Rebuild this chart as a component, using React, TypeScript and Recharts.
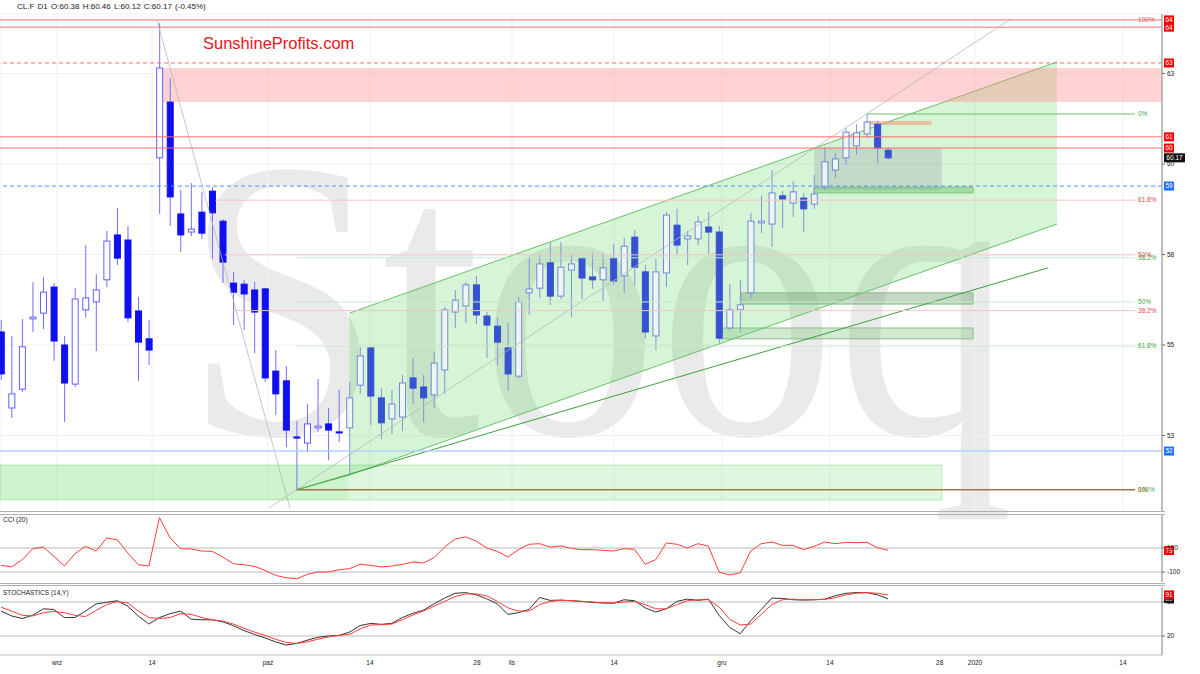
import React from 'react';
import {
  ComposedChart, Bar, Line, Area, XAxis, YAxis, CartesianGrid,
  ReferenceLine, ReferenceArea,
} from 'recharts';

// CL.F daily candles
const opens = [
  55.36, 53.26, 53.78, 55.72, 55.88, 56.60, 55.00, 53.92, 55.97, 56.19,
  56.80, 58.04, 57.90, 55.94, 55.17, 60.17, 61.71, 58.62, 58.12, 58.67,
  59.25, 58.42, 56.71, 56.68, 56.52, 56.55, 54.28, 54.01, 52.46, 52.29,
  52.71, 52.82, 52.60, 52.71, 53.89, 54.92, 53.54, 52.96, 53.01, 54.09,
  53.84, 53.62, 54.31, 55.91, 56.08, 56.66, 55.80, 55.52, 54.92, 54.14,
  56.44, 56.57, 57.27, 56.35, 57.07, 57.40, 56.88, 56.80, 57.40, 56.91,
  57.98, 57.02, 55.25, 56.99, 58.31, 57.93, 57.93, 58.26, 58.12, 55.47,
  55.97, 56.44, 58.37, 58.34, 59.12, 58.92, 59.06, 58.89, 59.36, 59.83,
  60.17, 60.50, 60.83, 61.10, 60.38,
];
const highs = [
  55.69, 55.25, 55.72, 56.74, 56.88, 56.71, 55.25, 56.57, 57.76, 56.96,
  58.15, 58.78, 58.29, 56.33, 55.69, 63.89, 62.38, 59.28, 59.47, 59.23,
  59.36, 58.48, 57.02, 56.80, 56.74, 56.57, 54.86, 54.42, 52.90, 53.37,
  54.06, 53.26, 53.76, 53.98, 54.94, 54.92, 53.81, 53.76, 54.17, 54.64,
  54.17, 54.81, 56.05, 56.52, 56.74, 56.91, 55.91, 55.75, 55.61, 56.33,
  57.43, 57.51, 57.84, 57.84, 57.49, 57.43, 57.54, 57.54, 57.79, 57.96,
  58.18, 57.21, 57.38, 58.67, 58.76, 58.15, 58.56, 58.67, 58.29, 56.68,
  56.80, 58.65, 59.12, 59.83, 59.25, 59.53, 59.20, 59.70, 60.47, 60.30,
  60.99, 61.10, 61.38, 61.19, 60.46,
];
const lows = [
  54.03, 52.98, 53.70, 55.36, 55.44, 54.56, 52.87, 53.84, 55.75, 54.83,
  56.60, 57.21, 55.64, 54.01, 54.45, 58.62, 58.29, 57.57, 58.01, 57.93,
  57.38, 56.71, 55.55, 55.41, 54.78, 53.98, 53.07, 52.18, 51.02, 52.04,
  52.60, 51.82, 52.32, 51.41, 53.65, 52.79, 52.40, 52.54, 52.62, 53.37,
  52.87, 53.26, 53.65, 55.47, 55.61, 55.58, 54.64, 54.45, 53.73, 54.09,
  55.83, 56.30, 56.10, 56.27, 55.77, 56.27, 56.55, 56.22, 56.66, 56.44,
  56.66, 55.19, 54.86, 56.60, 57.51, 57.21, 57.76, 57.51, 55.06, 55.41,
  55.36, 56.30, 58.09, 57.71, 58.23, 58.54, 58.12, 58.76, 59.28, 59.61,
  59.97, 60.25, 60.72, 60.03, 60.12,
];
const closes = [
  54.20, 53.65, 54.95, 55.77, 56.46, 55.11, 53.95, 56.27, 56.30, 56.52,
  57.87, 57.40, 55.75, 55.08, 54.86, 62.65, 59.09, 58.04, 58.20, 58.09,
  58.65, 57.29, 56.46, 56.41, 55.91, 54.09, 53.65, 52.65, 52.43, 52.82,
  52.76, 52.65, 52.57, 53.54, 54.70, 53.59, 52.85, 53.37, 53.95, 53.81,
  53.54, 54.50, 55.97, 56.24, 56.66, 55.83, 55.55, 55.08, 54.20, 56.19,
  56.55, 57.24, 56.35, 57.15, 57.24, 56.85, 56.80, 57.13, 56.77, 57.73,
  57.15, 55.36, 57.02, 58.59, 57.76, 58.01, 58.40, 58.12, 55.19, 55.97,
  56.11, 58.42, 58.42, 59.20, 59.03, 59.23, 58.76, 59.17, 60.06, 60.14,
  60.88, 60.86, 61.16, 60.44, 60.17,
];

const cci20 = [
  -44, -58, 3, 94, 108, 31, -50, 53, 114, 75,
  183, 169, 58, -39, -50, 353, 186, 94, 92, 75,
  72, 25, -31, -39, -53, -86, -128, -147, -156, -119,
  -100, -100, -81, -72, -36, -44, -58, -50, -36, -17,
  -25, 19, 108, 175, 192, 158, 100, 72, 25, 86,
  131, 136, 108, 117, 97, 86, 86, 81, 75, 94,
  89, -36, 3, 142, 131, 100, 136, 114, -100, -125,
  -106, 75, 136, 150, 122, 122, 86, 114, 150, 136,
  147, 144, 147, 103, 81,
];
const stochK = [
  64, 55.4, 50.9, 56.6, 68, 66.9, 52.6, 52.6, 64, 76.6,
  79.4, 82.3, 72.6, 55.4, 41.1, 52.6, 59.4, 64, 49.7, 48.6,
  48.6, 45.1, 38.3, 29.7, 22.9, 16.6, 9.7, 4, 6.9, 12.6,
  17.7, 20, 21.1, 26.9, 38.3, 42.3, 40.6, 42.3, 52.6, 60,
  65.7, 76.6, 86.9, 95.4, 96.6, 92.6, 85.7, 76.6, 58.3, 61.1,
  66.9, 88, 82.9, 83.4, 82.3, 81.1, 79.4, 78.3, 77.7, 84,
  82.3, 69.7, 62.3, 68, 81.1, 85.1, 82.9, 85.1, 56.6, 35.4,
  24, 46.9, 66.9, 86.9, 86.3, 84, 83.4, 84, 85.1, 90.9,
  95.4, 96.6, 96.6, 92.6, 85.7,
];
const stochD = [
  70.9, 64, 56.6, 55.4, 61.1, 63.4, 61.1, 56.6, 54.3, 65.1,
  75.4, 80.6, 78.3, 64, 52.6, 50.9, 52.6, 59.4, 58.3, 52.6,
  48.6, 46.3, 41.1, 33.7, 26.9, 21.1, 14.3, 8.6, 6.9, 9.7,
  14.3, 18.3, 21.1, 22.9, 32.6, 39.4, 40, 41.1, 48.6, 57.1,
  64, 72.6, 81.1, 89.7, 94.3, 94.3, 90.9, 81.1, 69.7, 64,
  64, 75.4, 81.1, 82.9, 82.3, 81.1, 80, 78.3, 78.3, 80,
  81.1, 75.4, 68, 68, 75.4, 82.3, 84, 84, 71.4, 49.7,
  39.4, 41.1, 58.3, 75.4, 84, 85.1, 84, 84, 84.6, 87.4,
  92.6, 95.4, 96.6, 95.4, 92.6,
];

// date axis (slot positions) and price ticks
const xTickPos = [5.3, 14.3, 25.28, 34.94, 45.07, 48.39, 58.05, 68.28, 78.5, 88.9, 92.24, 106.25];
const xTickLabels = ['wrz', '14', 'paź', '14', '28', 'lis', '14', 'gru', '14', '28', '2020', '14'];
const priceTicks = [52.5, 55, 57.5, 60, 62.5];

// rising channel: [lower, upper] at its two ends
const channel = [
  { i: 33, lo: 51.41, hi: 55.88 },
  { i: 100, lo: 58.34, hi: 62.82 },
];

const SLOTS = 110;
const X_DOMAIN: [number, number] = [-0.1, 109.95];
const FONT = '"Liberation Sans", Arial, sans-serif';

const rows = Array.from({ length: SLOTS }, (_, i) => {
  const ch = channel.find((c) => c.i === i);
  return {
    i,
    o: opens[i], h: highs[i], l: lows[i], c: closes[i],
    cci: cci20[i], k: stochK[i], d: stochD[i],
    ch: ch ? [ch.lo, ch.hi] : undefined,
  };
});

// candles inside the green channel look washed out in the original
function Candle(props: any) {
  const { x, y, width, height, payload } = props;
  if (!payload || payload.o == null) return null;
  const { o, h, l, c, i } = payload;
  const top = Math.min(y, y + height);
  const span = Math.abs(height);
  const k = h > l ? span / (h - l) : 0;
  const yOf = (v: number) => top + (h - v) * k;
  const up = c >= o;
  const bTop = yOf(Math.max(o, c));
  const bH = Math.max(1, yOf(Math.min(o, c)) - bTop);
  const cx = x + width / 2;
  const muted = i >= channel[0].i;
  const dn = muted ? '#3552d2' : '#0f0ff0';
  const upStroke = muted ? '#7288dc' : '#6060ff';
  const upFill = muted ? '#eef6f2' : '#ffffff';
  const wick = muted ? '#8294e0' : '#7070ff';
  return (
    <g>
      <line x1={cx} x2={cx} y1={top} y2={top + span} stroke={wick} strokeWidth={1} />
      <rect x={x + 0.5} y={bTop} width={width - 1} height={bH}
        fill={up ? upFill : dn} stroke={up ? upStroke : dn} strokeWidth={1} />
    </g>
  );
}

// small coloured value box on the right axis
const tag = (text: string, bg: string, w = 10) => (props: any) => {
  const vb = props.viewBox;
  if (!vb) return null;
  const x = vb.x + vb.width + 2;
  const y = vb.y;
  return (
    <g>
      <rect x={x} y={y - 4.5} width={w} height={9} fill={bg} />
      <text x={x + w / 2} y={y + 2.4} textAnchor="middle" fontSize={6.5} fill="#fff" fontFamily={FONT}>{text}</text>
    </g>
  );
};

const fibLbl = (value: string, fill: string) => ({ value, position: 'right' as const, fill, fontSize: 6.5, offset: 3, fontFamily: FONT });

const RED_FIB = '#f6c4c4';
const GREEN_FIB = '#cde8cd';

function MainPanel() {
  return (
    <ComposedChart width={1200} height={512} data={rows} margin={{ top: 14, right: 0, bottom: 0, left: 0 }}>
      <CartesianGrid stroke="#f1f1f1" strokeWidth={1} />
      <XAxis type="number" dataKey="i" domain={X_DOMAIN} ticks={xTickPos} allowDataOverflow hide />
      <YAxis orientation="right" width={38} domain={[50.387, 64.143]} ticks={priceTicks} allowDataOverflow
        tickFormatter={(v: number) => String(Math.round(v))}
        tick={{ fontSize: 6.5, fill: '#222', fontFamily: FONT }} tickSize={3}
        axisLine={{ stroke: '#aaa', strokeWidth: 1.5 }} tickLine={{ stroke: '#666' }} />

      <Bar dataKey={(d: any) => (d.o == null ? null : [d.l, d.h])} barSize={7} isAnimationActive={false}
        shape={(p: any) => <Candle {...p} />} />

      {/* support band at the bottom */}
      <ReferenceArea x1={-0.1} x2={89.1} y1={50.72} y2={51.685} fill="#5fd35f" fillOpacity={0.2} stroke="#9be09b" strokeOpacity={0.6} ifOverflow="hidden" />
      <ReferenceArea x1={-0.1} x2={32.9} y1={50.72} y2={51.685} fill="#5fd35f" fillOpacity={0.12} stroke="none" ifOverflow="hidden" />

      <Area type="linear" dataKey={(d: any) => d.ch} connectNulls isAnimationActive={false}
        stroke="#67c267" strokeWidth={1} fill="#45cf45" fillOpacity={0.22} dot={false} activeDot={false} />

      {/* resistance zone */}
      <ReferenceArea x1={14.7} x2={109.95} y1={61.71} y2={62.65} fill="#ff8c8c" fillOpacity={0.38} stroke="none" ifOverflow="hidden" />

      {/* consolidation boxes */}
      <ReferenceArea x1={77} x2={89.1} y1={59.28} y2={60.44} fill="#9aa6ad" fillOpacity={0.32} stroke="none" />
      <ReferenceArea x1={77} x2={92.05} y1={59.2} y2={59.36} fill="#5cb85c" fillOpacity={0.4} stroke="#7cc47c" />
      <ReferenceArea x1={70.1} x2={92.05} y1={56.13} y2={56.44} fill="#7fa97f" fillOpacity={0.45} stroke="#86c086" />
      <ReferenceArea x1={68} x2={92.05} y1={55.17} y2={55.47} fill="#7fbf7f" fillOpacity={0.35} stroke="#86c086" />
      <ReferenceArea x1={82.1} x2={88.1} y1={61.08} y2={61.19} fill="#f0966e" fillOpacity={0.55} stroke="none" />

      {/* trend lines */}
      <ReferenceLine segment={[{ x: 14.77, y: 63.98 }, { x: 27.36, y: 50.5 }]} stroke="#b8b8b8" strokeWidth={0.8} ifOverflow="visible" />
      <ReferenceLine segment={[{ x: 25.36, y: 50.5 }, { x: 95.59, y: 64.0 }]} stroke="#b8b8b8" strokeWidth={0.8} ifOverflow="visible" />
      <ReferenceLine segment={[{ x: 28, y: 51.0 }, { x: 99.15, y: 57.13 }]} stroke="#3f9f3f" strokeWidth={1} ifOverflow="visible" />
      <ReferenceLine segment={[{ x: 28, y: 51.0 }, { x: 33, y: 51.41 }]} stroke="#55b855" strokeWidth={1} ifOverflow="visible" />

      {/* Fibonacci levels, red set from the Sept high */}
      <ReferenceLine segment={[{ x: 15, y: 63.98 }, { x: 107.4, y: 63.98 }]} stroke="none" label={fibLbl('100%', '#d06060')} ifOverflow="visible" />
      <ReferenceLine segment={[{ x: 20.3, y: 59.0 }, { x: 107.4, y: 59.0 }]} stroke={RED_FIB} label={fibLbl('61.8%', '#e04848')} ifOverflow="visible" />
      <ReferenceLine segment={[{ x: 21.2, y: 57.49 }, { x: 107.4, y: 57.49 }]} stroke={RED_FIB} label={fibLbl('50%', '#e04848')} ifOverflow="visible" />
      <ReferenceLine segment={[{ x: 22.0, y: 55.95 }, { x: 107.4, y: 55.95 }]} stroke={RED_FIB} label={fibLbl('38.2%', '#e04848')} ifOverflow="visible" />
      {/* green set from the Oct low */}
      <ReferenceLine segment={[{ x: 82, y: 61.38 }, { x: 107.4, y: 61.38 }]} stroke="#6cc06c" strokeWidth={1} label={fibLbl('0%', '#40a840')} ifOverflow="visible" />
      <ReferenceLine segment={[{ x: 28, y: 57.41 }, { x: 107.4, y: 57.41 }]} stroke={GREEN_FIB} label={fibLbl('38.2%', '#40a840')} ifOverflow="visible" />
      <ReferenceLine segment={[{ x: 28, y: 56.19 }, { x: 107.4, y: 56.19 }]} stroke={GREEN_FIB} label={fibLbl('50%', '#40a840')} ifOverflow="visible" />
      <ReferenceLine segment={[{ x: 28, y: 54.97 }, { x: 107.4, y: 54.97 }]} stroke={GREEN_FIB} label={fibLbl('61.8%', '#40a840')} ifOverflow="visible" />
      <ReferenceLine segment={[{ x: 28, y: 51.0 }, { x: 107.4, y: 51.0 }]} stroke="#9c7a4c" strokeWidth={1.5} label={fibLbl('0%', '#e04848')} ifOverflow="visible" />
      <ReferenceLine segment={[{ x: 28, y: 51.0 }, { x: 107.4, y: 51.0 }]} stroke="none" label={fibLbl('100%', '#40a840')} ifOverflow="visible" />

      {/* horizontal levels with axis tags */}
      <ReferenceLine y={63.98} stroke="#ff6b6b" strokeWidth={1} label={tag('64', '#f00')} />
      <ReferenceLine y={63.78} stroke="#ff6b6b" strokeWidth={1} label={tag('64', '#f00')} />
      <ReferenceLine y={62.79} stroke="#ff6b6b" strokeWidth={1} strokeDasharray="4 3" label={tag('63', '#f00')} />
      <ReferenceLine y={60.75} stroke="#ff6b6b" strokeWidth={1} label={tag('61', '#f00')} />
      <ReferenceLine y={60.44} stroke="#ff6b6b" strokeWidth={1} label={tag('60', '#f00')} />
      <ReferenceLine y={60.17} stroke="none" label={tag('60.17', '#111', 21)} />
      <ReferenceLine y={59.39} stroke="#4d94ff" strokeWidth={1} strokeDasharray="4 3" label={tag('59', '#1e6fff')} />
      <ReferenceLine y={52.07} stroke="#b3d1ff" strokeWidth={1.5} label={tag('52', '#1e6fff')} />
    </ComposedChart>
  );
}

function CciPanel() {
  return (
    <ComposedChart width={1200} height={68} data={rows} margin={{ top: 0, right: 0, bottom: 0, left: 0 }}>
      <XAxis type="number" dataKey="i" domain={X_DOMAIN} allowDataOverflow hide />
      <YAxis orientation="right" width={38} domain={[-183, 383]} ticks={[-100, 100]} allowDataOverflow
        tick={{ fontSize: 6.5, fill: '#222', fontFamily: FONT }} tickSize={3}
        axisLine={{ stroke: '#aaa', strokeWidth: 1.5 }} tickLine={{ stroke: '#666' }} />
      <ReferenceLine y={100} stroke="#dcdcdc" strokeWidth={2} />
      <ReferenceLine y={-100} stroke="#dcdcdc" strokeWidth={2} />
      <Line type="linear" dataKey="cci" stroke="#ff3b3b" strokeWidth={1} dot={false} isAnimationActive={false} />
      <ReferenceLine y={79} stroke="none" label={tag('79', '#f00')} />
    </ComposedChart>
  );
}

function StochPanel() {
  return (
    <ComposedChart width={1200} height={87} data={rows} margin={{ top: 0, right: 0, bottom: 0, left: 0 }}>
      <XAxis type="number" dataKey="i" domain={X_DOMAIN} ticks={xTickPos} allowDataOverflow height={19}
        tickFormatter={(_v: number, idx: number) => xTickLabels[idx]}
        tick={{ fontSize: 6.5, fill: '#222', fontFamily: FONT }} tickLine={false} tickSize={3}
        axisLine={{ stroke: '#bbb' }} interval={0} />
      <YAxis orientation="right" width={38} domain={[-13.5, 106.5]} ticks={[20, 80]} allowDataOverflow
        tick={{ fontSize: 6.5, fill: '#222', fontFamily: FONT }} tickSize={3}
        axisLine={{ stroke: '#aaa', strokeWidth: 1.5 }} tickLine={{ stroke: '#666' }} />
      <ReferenceLine y={80} stroke="#dcdcdc" strokeWidth={2} />
      <ReferenceLine y={20} stroke="#dcdcdc" strokeWidth={2} />
      <Line type="linear" dataKey="k" stroke="#333" strokeWidth={1} dot={false} isAnimationActive={false} />
      <Line type="linear" dataKey="d" stroke="#ff3b3b" strokeWidth={1} dot={false} isAnimationActive={false} />
      <ReferenceLine y={86} stroke="none" label={tag('86', '#111')} />
      <ReferenceLine y={92.6} stroke="none" label={tag('91', '#f00')} />
    </ComposedChart>
  );
}

const sep = (top: number): React.CSSProperties => ({
  position: 'absolute', left: 0, top, width: 1165, height: 0, borderTop: '1px solid #b0b0b0',
});

export default function App() {
  return (
    <div style={{ position: 'fixed', left: 0, top: 0, width: 1200, height: 674, background: '#fff', overflow: 'hidden', fontFamily: FONT }}>
      <svg width={1200} height={674} style={{ position: 'absolute', left: 0, top: 0 }}>
        <text x={184} y={434} fontSize={400} fill="#eaeaea" fontFamily='"Liberation Serif", "DejaVu Serif", serif'
          textLength={830} lengthAdjust="spacingAndGlyphs">Stooq</text>
      </svg>
      <div style={{ position: 'absolute', left: 0, top: 0 }}><MainPanel /></div>
      <div style={{ position: 'absolute', left: 0, top: 514 }}><CciPanel /></div>
      <div style={{ position: 'absolute', left: 0, top: 587 }}><StochPanel /></div>

      <div style={sep(511)} />
      <div style={sep(513.5)} />
      <div style={sep(582.5)} />
      <div style={sep(585)} />

      <div style={{ position: 'absolute', left: 17, top: 2, fontSize: 8, color: '#222', whiteSpace: 'pre', wordSpacing: 1 }}>
        {'CL.F D1 O:60.38 H:60.46 L:60.12 C:60.17 (-0.45%)'}
      </div>
      <div style={{ position: 'absolute', left: 203, top: 34, fontSize: 16.5, color: '#e8141c' }}>SunshineProfits.com</div>
      <div style={{ position: 'absolute', left: 3, top: 516, fontSize: 6.5, color: '#222' }}>CCI (20)</div>
      <div style={{ position: 'absolute', left: 3, top: 589, fontSize: 6.5, color: '#222' }}>STOCHASTICS (14,Y)</div>
    </div>
  );
}
